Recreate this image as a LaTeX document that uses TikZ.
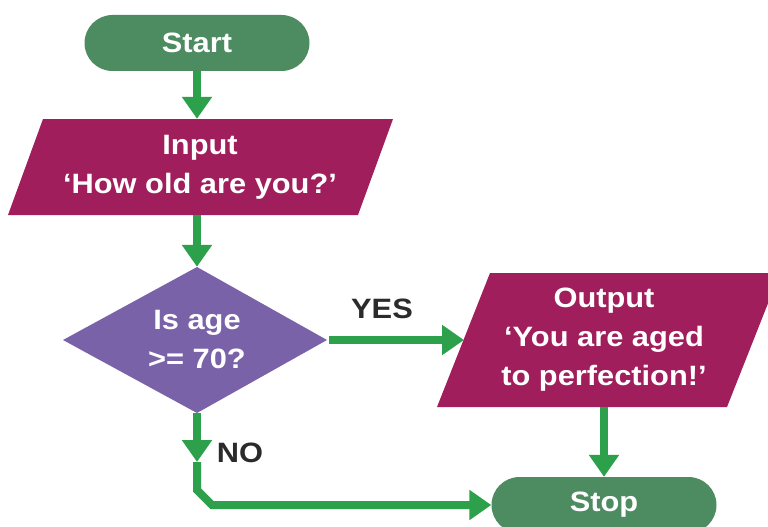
\documentclass[tikz,border=0pt]{standalone}
\usepackage{fontspec}
\setmainfont{Liberation Sans}[FakeStretch=1.1]
\usetikzlibrary{arrows.meta}
\definecolor{termgreen}{HTML}{4D8B61}
\definecolor{arrowgreen}{HTML}{2CA04A}
\definecolor{iomagenta}{HTML}{A01E5B}
\definecolor{decpurple}{HTML}{7A62A8}
\definecolor{labelgray}{HTML}{2B2B2B}
\tikzset{
  txt/.style={font=\fontsize{28}{39}\selectfont\bfseries, text=white, align=center, inner sep=0pt},
  terminal/.style={txt, fill=termgreen, rounded corners=28pt, minimum width=225pt, minimum height=56pt},
  arr/.style={draw=arrowgreen, line width=8pt, -{Triangle[width=29pt,length=22pt]}},
  lbl/.style={font=\fontsize{28}{32}\selectfont\bfseries, text=labelgray, inner sep=0pt},
}
\begin{document}
\begin{tikzpicture}[x=1pt,y=-1pt]
\clip (0,0) rectangle (768,527);
\fill[white] (0,0) rectangle (768,527);

% Start
\node[terminal] (start) at (197,43) {Start};

% Input parallelogram
\fill[iomagenta] (43,119) -- (393,119) -- (358,215) -- (8,215) -- cycle;
\node[txt, minimum width=280pt, minimum height=96pt] (input) at (200,167) {Input\\‘How old are you?’};

% Decision diamond
\fill[decpurple] (197,267) -- (327,340) -- (197,413) -- (63,340) -- cycle;
\node[txt, minimum width=264pt, minimum height=146pt] (dec) at (197,340) {Is age\\>= 70?};

% Output parallelogram
\fill[iomagenta] (490,273) -- (780,273) -- (727,407) -- (437,407) -- cycle;
\node[txt, minimum width=230pt, minimum height=134pt] (output) at (604,340) {Output\\‘You are aged\\to perfection!’};
\coordinate (outleft) at (464,340);

% Stop
\node[terminal] (stop) at (604,505) {Stop};

% Connectors
\draw[arr] (start.south) -- (start.south |- input.north);
\draw[arr] (input.south -| dec.north) -- (dec.north);
\draw[arr] (dec.east) -- (outleft);
\draw[arr] (output.south) -- (stop.north);
\coordinate (nomid) at (197,462);
\draw[arr] (dec.south) -- (nomid);
\draw[arr] (nomid) -- (197,490) -- (212,505) -- (stop.west);

% Labels
\node[lbl] (yes) at (382,309) {YES};
\node[lbl] (no) at (240,453) {NO};
\end{tikzpicture}
\end{document}
